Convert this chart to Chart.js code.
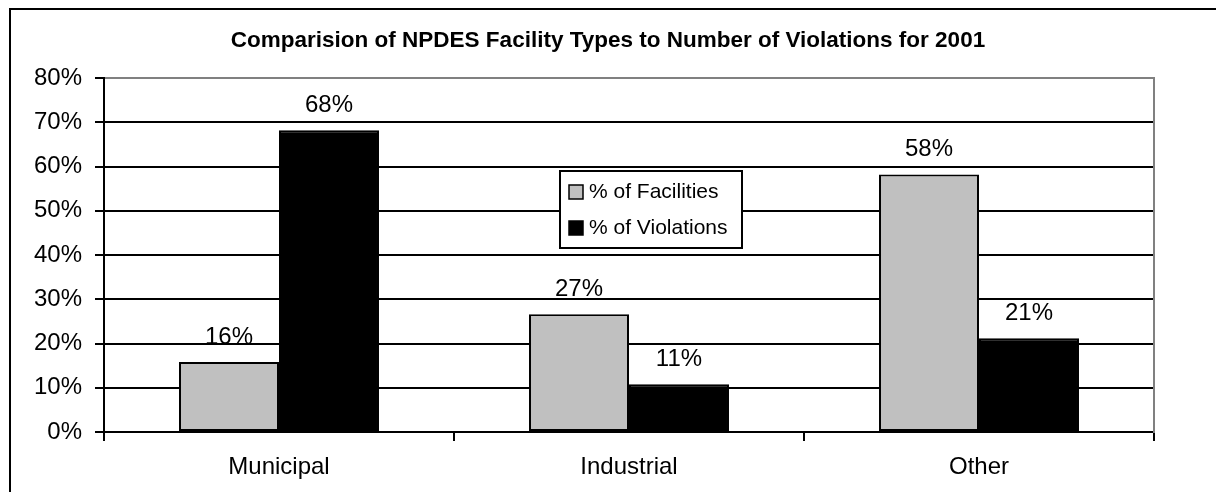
<!DOCTYPE html>
<html><head><meta charset="utf-8">
<script src="https://cdn.jsdelivr.net/npm/chart.js@4/dist/chart.umd.min.js"></script>
<style>html,body{margin:0;padding:0;background:#fff}canvas{display:block}</style>
</head><body>
<canvas id="c" width="1216" height="492"></canvas>
<script>
const categories = ['Municipal', 'Industrial', 'Other'];
const facilities = [15.8, 26.6, 58.2];
const violations = [68.2, 10.8, 21.2];
const seriesNames = ['% of Facilities', '% of Violations'];
const seriesColors = ['#c0c0c0', '#000000'];
const yMin = 0, yMax = 80, yStep = 10;
const titleText = 'Comparision of NPDES Facility Types to Number of Violations for 2001';

const FONT = '"Liberation Sans", Arial, Helvetica, sans-serif';
Chart.defaults.font.family = FONT;
Chart.defaults.color = '#000';

const framePlugin = {
  id: 'frame',
  beforeDraw(chart) {
    const ctx = chart.ctx;
    ctx.save();
    ctx.fillStyle = '#fff';
    ctx.fillRect(0, 0, chart.width, chart.height);
    ctx.strokeStyle = '#000';
    ctx.lineWidth = 2;
    ctx.strokeRect(10, 9, chart.width + 50, chart.height + 50);
    ctx.restore();
  }
};

const valueLabels = {
  id: 'valueLabels',
  afterDatasetsDraw(chart) {
    const ctx = chart.ctx;
    ctx.save();
    ctx.font = '24px ' + FONT;
    ctx.fillStyle = '#000';
    ctx.textAlign = 'center';
    ctx.textBaseline = 'middle';
    chart.data.datasets.forEach((ds, di) => {
      const meta = chart.getDatasetMeta(di);
      meta.data.forEach((bar, i) => {
        ctx.fillText(Math.round(ds.data[i]) + '%', bar.x, bar.y - 25);
      });
    });
    ctx.restore();
  }
};

const boxLegend = {
  id: 'boxLegend',
  afterDatasetsDraw(chart, args, opts) {
    const ctx = chart.ctx;
    ctx.save();
    ctx.fillStyle = '#fff';
    ctx.fillRect(opts.x, opts.y, opts.w, opts.h);
    ctx.strokeStyle = '#000';
    ctx.lineWidth = 2;
    ctx.strokeRect(opts.x, opts.y, opts.w, opts.h);
    ctx.font = '21px ' + FONT;
    ctx.textBaseline = 'middle';
    ctx.textAlign = 'left';
    chart.data.datasets.forEach((ds, i) => {
      const cy = opts.y + opts.firstRow + i * opts.rowGap;
      ctx.fillStyle = ds.backgroundColor;
      ctx.fillRect(opts.x + 9, cy - 7, 14, 14);
      ctx.strokeStyle = '#000';
      ctx.lineWidth = 1.5;
      ctx.strokeRect(opts.x + 9, cy - 7, 14, 14);
      ctx.fillStyle = '#000';
      ctx.fillText(ds.label, opts.x + 29, cy);
    });
    ctx.restore();
  }
};

new Chart(document.getElementById('c'), {
  type: 'bar',
  data: {
    labels: categories,
    datasets: [
      { label: seriesNames[0], data: facilities, backgroundColor: seriesColors[0], borderColor: '#000', borderWidth: 2, borderSkipped: false, categoryPercentage: 0.5714, barPercentage: 1.0 },
      { label: seriesNames[1], data: violations, backgroundColor: seriesColors[1], borderColor: '#000', borderWidth: 2, borderSkipped: false, categoryPercentage: 0.5714, barPercentage: 1.0 }
    ]
  },
  options: {
    responsive: false,
    animation: false,
    layout: { padding: 0 },
    plugins: {
      legend: { display: false },
      tooltip: { enabled: false },
      title: {
        display: true, text: titleText, color: '#000',
        font: { size: 22.5, weight: 'bold', family: FONT },
        padding: { top: 27, bottom: 24 }
      },
      boxLegend: { x: 560, y: 171, w: 182, h: 77, firstRow: 21, rowGap: 36 }
    },
    scales: {
      x: {
        grid: { offset: true, drawOnChartArea: false, drawTicks: true, tickLength: 9, color: '#000', lineWidth: 2 },
        border: { display: true, color: '#000', width: 2 },
        ticks: { font: { size: 24 }, color: '#000', padding: 12 },
        afterFit(s) { s.height = 60; }
      },
      y: {
        min: yMin, max: yMax,
        grid: {
          color: (c) => (c.tick && c.tick.value === yMax) ? '#808080' : '#000',
          tickColor: '#000', lineWidth: 2, tickLength: 9
        },
        border: { display: true, color: '#000', width: 2 },
        ticks: { stepSize: yStep, font: { size: 24 }, color: '#000', padding: 13, callback: (v) => v + '%' },
        afterFit(s) { s.width = 104; }
      },
      y2: {
        position: 'right', min: yMin, max: yMax,
        grid: { display: false, drawTicks: false },
        border: { display: true, color: '#808080', width: 2 },
        ticks: { display: false },
        afterFit(s) { s.width = 62; }
      }
    }
  },
  plugins: [framePlugin, valueLabels, boxLegend]
});
</script>
</body></html>
